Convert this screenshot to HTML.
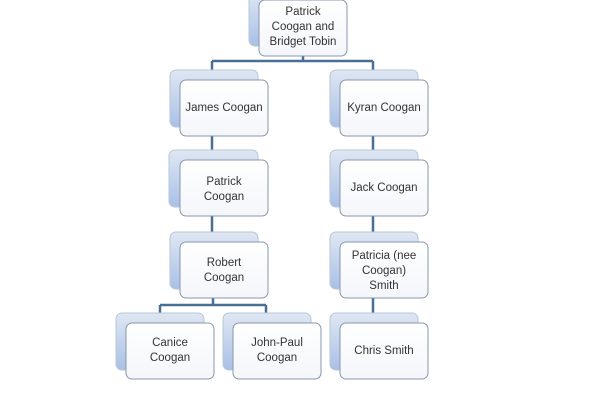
<!DOCTYPE html>
<html><head><meta charset="utf-8"><style>
html,body{margin:0;padding:0;background:#fff;width:600px;height:400px;overflow:hidden}
svg{display:block}
text{font-family:"Liberation Sans",sans-serif;font-size:11.5px;fill:#333}
</style></head><body>
<svg width="600" height="400" viewBox="0 0 600 400" xmlns="http://www.w3.org/2000/svg">
<defs>
<linearGradient id="bg" x1="0" y1="0" x2="0" y2="1">
<stop offset="0" stop-color="#dfe7f3"/><stop offset="1" stop-color="#a9c0e6"/></linearGradient>
<linearGradient id="fg" x1="0" y1="0" x2="0" y2="1">
<stop offset="0" stop-color="#ffffff"/><stop offset="1" stop-color="#f4f6fa"/></linearGradient>
</defs>
<g stroke="#4a6f94" stroke-width="2.5" fill="none">
<path d="M303 52V61M212 61H373M212 61V71M373 61V71"/>
<path d="M212 135V151M373 135V151M212 215V233M373 215V233"/>
<path d="M213 296V305M160 305H266M160 305V314M266 305V314M373 296V314"/>
</g>
<g id="nodes">
<g transform="translate(249,-10)"><rect width="88" height="56" rx="6" fill="url(#bg)" stroke="#b9c6d8"/><rect x="10" y="10" width="88" height="56" rx="6" fill="url(#fg)" stroke="#8797ad"/></g>
<g transform="translate(170,70)"><rect width="88" height="57" rx="6" fill="url(#bg)" stroke="#b9c6d8"/><rect x="10" y="10" width="88" height="56" rx="6" fill="url(#fg)" stroke="#8797ad"/></g>
<g transform="translate(330,70)"><rect width="88" height="57" rx="6" fill="url(#bg)" stroke="#b9c6d8"/><rect x="10" y="10" width="88" height="56" rx="6" fill="url(#fg)" stroke="#8797ad"/></g>
<g transform="translate(169,150)"><rect width="89" height="57" rx="6" fill="url(#bg)" stroke="#b9c6d8"/><rect x="11" y="10" width="88" height="56" rx="6" fill="url(#fg)" stroke="#8797ad"/></g>
<g transform="translate(330,150)"><rect width="88" height="57" rx="6" fill="url(#bg)" stroke="#b9c6d8"/><rect x="10" y="10" width="88" height="56" rx="6" fill="url(#fg)" stroke="#8797ad"/></g>
<g transform="translate(170,232)"><rect width="88" height="57" rx="6" fill="url(#bg)" stroke="#b9c6d8"/><rect x="10" y="10" width="88" height="56" rx="6" fill="url(#fg)" stroke="#8797ad"/></g>
<g transform="translate(330,232)"><rect width="88" height="57" rx="6" fill="url(#bg)" stroke="#b9c6d8"/><rect x="10" y="10" width="88" height="56" rx="6" fill="url(#fg)" stroke="#8797ad"/></g>
<g transform="translate(116,313)"><rect width="88" height="57" rx="6" fill="url(#bg)" stroke="#b9c6d8"/><rect x="10" y="10" width="88" height="56" rx="6" fill="url(#fg)" stroke="#8797ad"/></g>
<g transform="translate(223,313)"><rect width="88" height="57" rx="6" fill="url(#bg)" stroke="#b9c6d8"/><rect x="10" y="10" width="88" height="56" rx="6" fill="url(#fg)" stroke="#8797ad"/></g>
<g transform="translate(330,313)"><rect width="88" height="57" rx="6" fill="url(#bg)" stroke="#b9c6d8"/><rect x="10" y="10" width="88" height="56" rx="6" fill="url(#fg)" stroke="#8797ad"/></g>
</g>
<g text-anchor="middle">
<text x="303" y="15">Patrick</text><text x="303" y="30">Coogan and</text><text x="303" y="45">Bridget Tobin</text>
<text x="224" y="111">James Coogan</text>
<text x="384" y="111">Kyran  Coogan</text>
<text x="224" y="185">Patrick</text><text x="224" y="200">Coogan</text>
<text x="384" y="191">Jack Coogan</text>
<text x="224" y="266">Robert</text><text x="224" y="281">Coogan</text>
<text x="384" y="259">Patricia (nee</text><text x="384" y="274">Coogan)</text><text x="384" y="289">Smith</text>
<text x="170" y="346">Canice</text><text x="170" y="361">Coogan</text>
<text x="277" y="346">John-Paul</text><text x="277" y="361">Coogan</text>
<text x="384" y="354">Chris Smith</text>
</g>
</svg>
</body></html>
